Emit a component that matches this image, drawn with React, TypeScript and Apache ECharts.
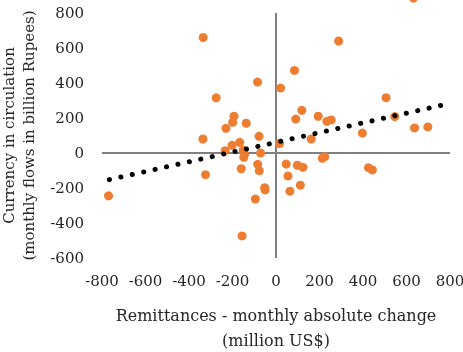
import React, { useEffect, useRef } from "react";
import * as echarts from "echarts";

// Remittances monthly absolute change (million US$)
const remittances = [
  -335, -85, -275, -193, -199, -137, -230, -336, -78, -202, -167, -234, -151, -144, -148, -71,
  -84, -77, -160, -324, -52, -50, -95, -156, -770, 16, 47, 55, 64, 98, 124, 112, 213, 224,
  425, 443, 162, 21, 85, 288, 119, 91, 194, 234, 254, 397, 506, 546, 637, 698, 632,
];
// Currency in circulation monthly flows (billion Rupees)
const currency = [
  660, 405, 315, 210, 175, 170, 141, 80, 95, 44, 61, 13, 17, -6, -25, 0,
  -65, -101, -90, -124, -198, -211, -263, -474, -245, 53, -63, -131, -218, -70, -82, -184, -30, -21,
  -84, -97, 80, 371, 472, 640, 244, 194, 210, 181, 189, 114, 316, 208, 143, 149, 885,
];
// Linear trendline end points
const trendX = [-766, 781];
const trendY = [-152, 278];

const xTicks = { min: -800, max: 800, interval: 200 };
const yTicks = { min: -600, max: 800, interval: 200 };

const FONT = "DejaVu Serif";
const TEXT = "#262626";

export default function App() {
  const ref = useRef<HTMLDivElement>(null);
  useEffect(() => {
    if (!ref.current) return;
    const chart = echarts.init(ref.current, undefined, { renderer: "svg" });
    const points = remittances.map((x, i) => [x, currency[i]]);
    const trend = trendX.map((x, i) => [x, trendY[i]]);
    const zeroH = [[xTicks.min, 0], [xTicks.max, 0]];
    const zeroV = [[0, yTicks.min], [0, yTicks.max]];
    const axisLineSeries = (data: number[][]) => ({
      type: "line",
      data,
      showSymbol: false,
      silent: true,
      z: 1,
      lineStyle: { color: "#808080", width: 2, type: "solid" },
    });
    chart.setOption({
      animation: false,
      grid: { left: 102, right: 13, top: 13, bottom: 94, outerBoundsMode: "none" },
      xAxis: {
        type: "value",
        ...xTicks,
        axisLine: { show: false },
        axisTick: { show: false },
        splitLine: { show: false },
        axisLabel: { color: TEXT, fontFamily: FONT, fontSize: 15, margin: 15 },
        name: "Remittances - monthly absolute change\n(million US$)",
        nameLocation: "middle",
        nameGap: 45,
        nameTextStyle: { color: TEXT, fontFamily: FONT, fontSize: 16, lineHeight: 25 },
      },
      yAxis: {
        type: "value",
        ...yTicks,
        axisLine: { show: false },
        axisTick: { show: false },
        splitLine: { show: false },
        axisLabel: { color: TEXT, fontFamily: FONT, fontSize: 15, margin: 18 },
        name: "Currency in circulation\n(monthly flows in billion Rupees)",
        nameLocation: "middle",
        nameGap: 56,
        nameTextStyle: { color: TEXT, fontFamily: FONT, fontSize: 15, lineHeight: 20 },
      },
      series: [
        axisLineSeries(zeroH),
        axisLineSeries(zeroV),
        {
          type: "scatter",
          data: points,
          symbolSize: 9,
          clip: false,
          z: 3,
          itemStyle: { color: "#ED7D31", opacity: 1 },
        },
        {
          type: "line",
          data: trend,
          showSymbol: false,
          z: 4,
          lineStyle: { color: "#000", width: 5, type: [0.1, 11.6], cap: "round" },
        },
      ],
    });
    return () => chart.dispose();
  }, []);
  return (
    <div
      ref={ref}
      style={{ position: "fixed", left: 0, top: 0, width: 463, height: 352 }}
    />
  );
}
